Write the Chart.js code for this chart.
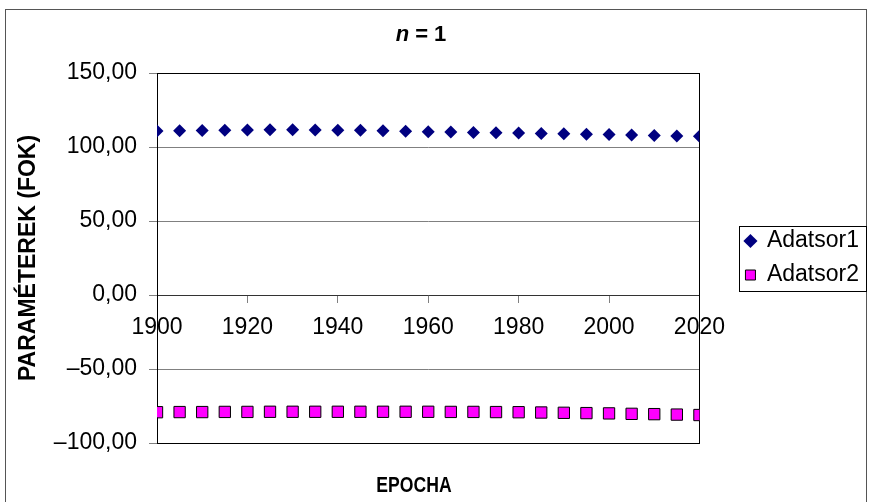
<!DOCTYPE html>
<html>
<head>
<meta charset="utf-8">
<script src="https://cdn.jsdelivr.net/npm/chart.js@4/dist/chart.umd.min.js"></script>
<style>
  html, body { margin: 0; padding: 0; background: #fff; }
</style>
</head>
<body>
<canvas id="chart" width="869" height="502"></canvas>
<script>
/* ================= DATA ================= */
const years = [1900, 1905, 1910, 1915, 1920, 1925, 1930, 1935, 1940, 1945, 1950, 1955,
               1960, 1965, 1970, 1975, 1980, 1985, 1990, 1995, 2000, 2005, 2010, 2015, 2020];
const adatsor1 = [110.8, 111.0, 111.2, 111.4, 111.5, 111.6, 111.6, 111.5, 111.4, 111.3, 111.0, 110.7,
                  110.3, 110.1, 109.8, 109.6, 109.4, 109.1, 108.9, 108.6, 108.4, 108.1, 107.8, 107.5, 107.2];
const adatsor2 = [-79.2, -79.1, -79.1, -79.0, -79.0, -78.9, -78.9, -78.9, -78.9, -78.9, -78.9, -78.9,
                  -78.9, -79.0, -79.0, -79.1, -79.2, -79.4, -79.6, -79.8, -80.0, -80.3, -80.5, -80.8, -81.1];
const seriesNames = ["Adatsor1", "Adatsor2"];
const xRange = [1900, 2020, 20];
const yRange = [-100, 150, 50];

const FONT = "'Liberation Sans', Arial, sans-serif";

function pairs(vals) {
    return years.map((y, i) => ({ x: y, y: vals[i] }));
}

function fmtNum(v) {
    return v.toFixed(2).replace(".", ",").replace("-", "\u2013");
}

/* ================= DECORATION ================= */
const frame = {
    id: "frame",
    beforeDraw(chart) {
        const ctx = chart.ctx;
        ctx.save();
        ctx.fillStyle = "#fff";
        ctx.fillRect(0, 0, chart.width, chart.height);
        ctx.strokeStyle = "#555";
        ctx.lineWidth = 1;
        ctx.strokeRect(5.5, 9.5, 861, 520);
        ctx.restore();
    },
    beforeDatasetsDraw(chart) {
        const { ctx, chartArea: a } = chart;
        ctx.save();
        ctx.strokeStyle = "#000";
        ctx.lineWidth = 1;
        ctx.strokeRect(Math.round(a.left) + 0.5, Math.round(a.top) + 0.5,
                       Math.round(a.right - a.left), Math.round(a.bottom - a.top));
        ctx.restore();
    },
    afterDraw(chart) {
        const { ctx } = chart;
        ctx.save();
        // title with italic n
        ctx.fillStyle = "#000";
        ctx.textBaseline = "alphabetic";
        const f1 = "italic bold 22px " + FONT;
        const f2 = "bold 22px " + FONT;
        const parts = [["n", f1], ["=", f2], ["1", f2]];
        const gap = 6;
        const widths = parts.map(p => { ctx.font = p[1]; return ctx.measureText(p[0]).width; });
        let x = 421 - (widths.reduce((s, w) => s + w, 0) + gap * 2) / 2;
        parts.forEach((p, i) => {
            ctx.font = p[1];
            ctx.fillText(p[0], x, 41);
            x += widths[i] + gap;
        });
        // x axis title
        ctx.font = "bold 22px " + FONT;
        ctx.textAlign = "center";
        ctx.translate(414, 492);
        ctx.scale(0.8, 1);
        ctx.fillText("EPOCHA", 0, 0);
        ctx.setTransform(1, 0, 0, 1, 0, 0);
        // legend box
        const hb = chart.legend.legendHitBoxes;
        if (hb && hb.length) {
            const l = Math.min(...hb.map(h => h.left)) - 6;
            const t = Math.min(...hb.map(h => h.top)) - 4;
            const r = Math.max(...hb.map(h => h.left + h.width)) + 7;
            const b = Math.max(...hb.map(h => h.top + h.height)) + 4;
            ctx.strokeStyle = "#000";
            ctx.lineWidth = 1;
            ctx.strokeRect(Math.round(l) + 0.5, Math.round(t) + 0.5, Math.round(r - l), Math.round(b - t));
        }
        ctx.restore();
    }
};

/* ================= CHART ================= */
new Chart(document.getElementById("chart"), {
    type: "scatter",
    data: {
        datasets: [{
            label: seriesNames[0],
            data: pairs(adatsor1),
            pointStyle: "rectRot",
            pointRadius: 6.5,
            backgroundColor: "#000080",
            borderColor: "#000080",
            borderWidth: 0
        }, {
            label: seriesNames[1],
            data: pairs(adatsor2),
            pointStyle: "rect",
            pointRadius: 8,
            backgroundColor: "#ff00ff",
            borderColor: "#000",
            borderWidth: 1
        }]
    },
    options: {
        responsive: false,
        animation: false,
        layout: { padding: { left: 0, top: 73, bottom: 59, right: 0 } },
        scales: {
            x: {
                type: "linear",
                position: { y: 0 },
                min: xRange[0],
                max: xRange[1],
                ticks: {
                    stepSize: xRange[2],
                    color: "#000",
                    font: { family: FONT, size: 23 },
                    padding: 12,
                    maxRotation: 0,
                    callback: v => String(v)
                },
                grid: { drawOnChartArea: false, drawTicks: true, tickLength: 7, tickColor: "#808080" },
                border: { color: "#333", width: 1 }
            },
            y: {
                position: "left",
                min: yRange[0],
                max: yRange[1],
                ticks: {
                    stepSize: yRange[2],
                    color: "#000",
                    font: { family: FONT, size: 23 },
                    padding: 12,
                    callback: v => fmtNum(v)
                },
                grid: { color: "#808080", tickLength: 8, tickColor: "#808080" },
                border: { color: "#000", width: 1 },
                title: {
                    display: true,
                    text: "PARAMÉTEREK (FOK)",
                    color: "#000",
                    font: { family: FONT, size: 23, weight: "bold" },
                    padding: { top: 15, bottom: 0 }
                },
                afterFit(scale) { scale.width = 157; }
            },
            gap: {
                position: "right",
                display: true,
                ticks: { display: false },
                grid: { display: false },
                border: { display: false },
                afterFit(scale) { scale.width = 35; }
            }
        },
        plugins: {
            legend: {
                position: "right",
                labels: {
                    usePointStyle: true,
                    boxWidth: 10,
                    boxHeight: 10,
                    padding: 11,
                    color: "#000",
                    font: { family: FONT, size: 23 }
                }
            },
            tooltip: { enabled: false }
        }
    },
    plugins: [frame]
});
</script>
</body>
</html>
